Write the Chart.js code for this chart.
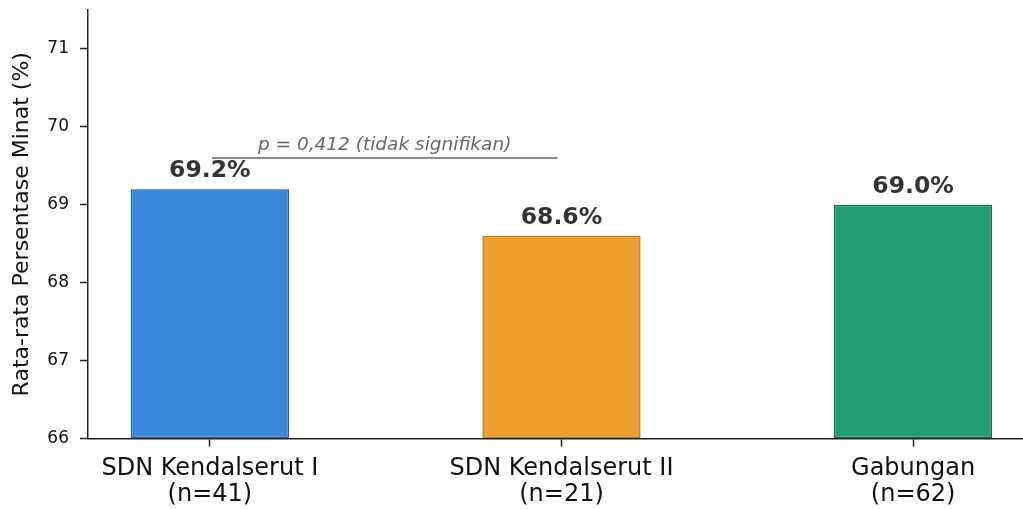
<!DOCTYPE html>
<html>
<head>
<meta charset="utf-8">
<script src="https://cdn.jsdelivr.net/npm/chart.js@4/dist/chart.umd.min.js"></script>
<style>
  body { margin: 0; background: #fff; }
  #wrap { width: 1023px; height: 509px; }
</style>
</head>
<body>
<div id="wrap"><canvas id="minatChart" width="1023" height="509"></canvas></div>
<script>
const groups = ["SDN Kendalserut I", "SDN Kendalserut II", "Gabungan"];
const sampleSizes = [41, 21, 62];
const groupPos = [0, 1, 2];
const meanMinat = [69.2, 68.6, 69.0];
const yTicks = [66, 67, 68, 69, 70, 71];
const pText = "p = 0,412 (tidak signifikan)";
const pLineX = [0.006, 0.988];
const pLineY = 69.6;

const fillColors = ["#3788dd", "#ee9e2b", "#1f9e74"];
const edgeColors = ["#1f5fa8", "#b87718", "#126b4c"];
const FONT = "'DejaVu Sans', sans-serif";

const labelPlugin = {
  id: "labels",
  afterDatasetsDraw(chart) {
    const { ctx, scales: { x, y } } = chart;
    ctx.save();
    ctx.textAlign = "center";
    ctx.textBaseline = "alphabetic";
    ctx.fillStyle = "#333";
    ctx.font = "bold 23.5px " + FONT;
    meanMinat.forEach((v, i) => {
      ctx.fillText(v.toFixed(1) + "%", x.getPixelForValue(groupPos[i]), y.getPixelForValue(v + 0.155));
    });
    ctx.fillStyle = "#666";
    ctx.font = "italic 18.5px " + FONT;
    ctx.fillText(pText, x.getPixelForValue((pLineX[0] + pLineX[1]) / 2), y.getPixelForValue(pLineY + 0.105));
    ctx.restore();
  }
};

new Chart(document.getElementById("minatChart"), {
  type: "bar",
  data: {
    datasets: [
      {
        data: groupPos.map((p, i) => ({ x: p, y: meanMinat[i] })),
        base: 66,
        backgroundColor: fillColors,
        borderColor: edgeColors,
        borderWidth: 1.5,
        borderSkipped: false,
        categoryPercentage: 1,
        barPercentage: 0.45
      },
      {
        type: "line",
        data: pLineX.map(px => ({ x: px, y: pLineY })),
        borderColor: "#888",
        borderWidth: 2,
        pointRadius: 0,
        fill: false
      }
    ]
  },
  options: {
    responsive: false,
    devicePixelRatio: 1,
    animation: false,
    layout: { padding: { top: 10, right: 0, bottom: 0, left: 0 } },
    plugins: { legend: { display: false }, tooltip: { enabled: false } },
    scales: {
      x: {
        type: "linear",
        min: -0.3466,
        max: 2.3125,
        offset: false,
        afterBuildTicks: s => { s.ticks = groupPos.map(v => ({ value: v })); },
        afterFit: s => { s.height = 70.5; s.paddingLeft = 0; s.paddingRight = 0; },
        ticks: {
          color: "#111",
          font: { family: FONT, size: 24, lineHeight: 1.05 },
          padding: 10,
          maxRotation: 0,
          autoSkip: false,
          callback: v => {
            const i = groupPos.indexOf(v);
            return i < 0 ? "" : [groups[i], "(n=" + sampleSizes[i] + ")"];
          }
        },
        grid: { offset: false, drawOnChartArea: false, tickLength: 8, tickWidth: 1.5, tickColor: "#222" },
        border: { display: true, color: "#222", width: 1.5 }
      },
      y: {
        min: 66,
        max: 71.5,
        afterBuildTicks: s => { s.ticks = yTicks.map(v => ({ value: v })); },
        afterFit: s => { s.width = 88; s.paddingTop = 0; s.paddingBottom = 0; },
        ticks: {
          color: "#111",
          font: { family: FONT, size: 17 },
          padding: 11
        },
        title: {
          display: true,
          text: "Rata-rata Persentase Minat (%)",
          color: "#111",
          font: { family: FONT, size: 22 },
          padding: { top: 9, bottom: 0 }
        },
        grid: { drawOnChartArea: false, tickLength: 8, tickWidth: 1.5, tickColor: "#222" },
        border: { display: true, color: "#222", width: 1.5 }
      }
    }
  },
  plugins: [labelPlugin]
});
</script>
</body>
</html>
